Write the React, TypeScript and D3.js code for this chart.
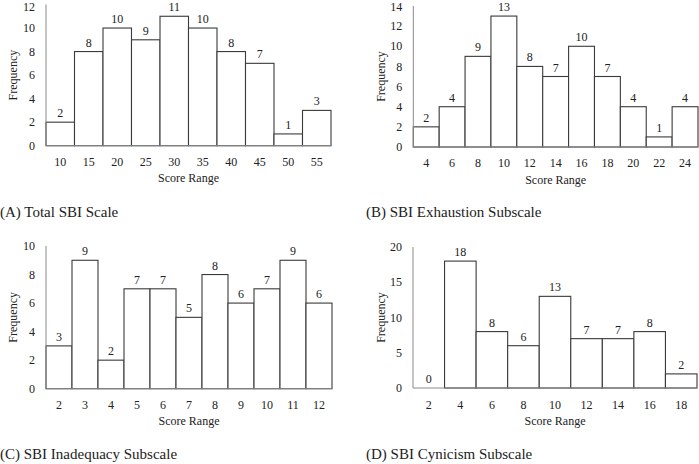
import React from "react";
import * as d3 from "d3";

const catsA = ["10", "15", "20", "25", "30", "35", "40", "45", "50", "55"];
const valsA = [2, 8, 10, 9, 11, 10, 8, 7, 1, 3];
const ticksA = [0, 2, 4, 6, 8, 10, 12];

const catsB = ["4", "6", "8", "10", "12", "14", "16", "18", "20", "22", "24"];
const valsB = [2, 4, 9, 13, 8, 7, 10, 7, 4, 1, 4];
const ticksB = [0, 2, 4, 6, 8, 10, 12, 14];

const catsC = ["2", "3", "4", "5", "6", "7", "8", "9", "10", "11", "12"];
const valsC = [3, 9, 2, 7, 7, 5, 8, 6, 7, 9, 6];
const ticksC = [0, 2, 4, 6, 8, 10];

const catsD = ["2", "4", "6", "8", "10", "12", "14", "16", "18"];
const valsD = [0, 18, 8, 6, 13, 7, 7, 8, 2];
const ticksD = [0, 5, 10, 15, 20];

const FONT = "Liberation Serif, DejaVu Serif, serif";
const txt: React.CSSProperties = { fontFamily: FONT };

type PanelProps = {
  x0: number; x1: number; yTop: number; yBase: number;
  cats: string[]; vals: number[]; ticks: number[];
  tickY: number; titleY: number; freqX: number;
  caption: string; capX: number; capY: number;
};

function Panel(p: PanelProps) {
  const x = d3.scaleBand<string>().domain(p.cats).range([p.x0, p.x1]).padding(0);
  const maxT = p.ticks[p.ticks.length - 1];
  const y = d3.scaleLinear().domain([0, maxT]).range([p.yBase, p.yTop]);
  const bw = x.bandwidth();
  return (
    <g>
      {p.cats.map((c, i) => (
        <rect key={c} x={x(c)} y={y(p.vals[i])} width={bw} height={p.yBase - y(p.vals[i])}
          fill="#fff" stroke="#3a3a3a" strokeWidth={1.1} />
      ))}
      <line x1={p.x0} x2={p.x0} y1={p.yTop} y2={p.yBase} stroke="#8a8a8a" strokeWidth={1} />
      <line x1={p.x0} x2={p.x1} y1={p.yBase} y2={p.yBase} stroke="#8a8a8a" strokeWidth={1} />
      {p.ticks.map((t) => (
        <text key={t} style={txt} x={p.x0 - 11} y={Math.max(y(t), 6.5)} dy="0.35em" textAnchor="end" fontSize={12}>{t}</text>
      ))}
      {p.cats.map((c, i) => (
        <g key={c}>
          <text style={txt} x={(x(c) as number) + bw / 2} y={p.tickY} dy="0.35em" textAnchor="middle" fontSize={12}>{c}</text>
          <text style={txt} x={(x(c) as number) + bw / 2} y={y(p.vals[i]) - 5} textAnchor="middle" fontSize={12}>{p.vals[i]}</text>
        </g>
      ))}
      <text style={txt} x={(p.x0 + p.x1) / 2} y={p.titleY} dy="0.35em" textAnchor="middle" fontSize={12}>Score Range</text>
      <text style={txt} transform={`translate(${p.freqX},${(p.yTop + p.yBase) / 2}) rotate(-90)`} dy="0.35em"
        textAnchor="middle" fontSize={12}>Frequency</text>
      <text style={txt} x={p.capX} y={p.capY} dy="0.35em" fontSize={15}>{p.caption}</text>
    </g>
  );
}

export default function App() {
  return (
    <svg width={699} height={464} style={{ position: "absolute", left: 0, top: 0, background: "#fff" }} fill="#222">
      <rect x={0} y={0} width={699} height={464} fill="#fff" />
      <Panel x0={46} x1={331} yTop={4.5} yBase={145.7} cats={catsA} vals={valsA} ticks={ticksA}
        tickY={162} titleY={178} freqX={13} caption="(A) Total SBI Scale" capX={0} capY={212} />
      <Panel x0={413.3} x1={698} yTop={6} yBase={147} cats={catsB} vals={valsB} ticks={ticksB}
        tickY={163} titleY={180} freqX={381} caption="(B) SBI Exhaustion Subscale" capX={366} capY={212} />
      <Panel x0={46} x1={332} yTop={246} yBase={388.7} cats={catsC} vals={valsC} ticks={ticksC}
        tickY={405} titleY={421} freqX={13} caption="(C) SBI Inadequacy Subscale" capX={0} capY={454} />
      <Panel x0={413} x1={697} yTop={247} yBase={388} cats={catsD} vals={valsD} ticks={ticksD}
        tickY={404.7} titleY={421} freqX={381} caption="(D) SBI Cynicism Subscale" capX={366} capY={453.7} />
    </svg>
  );
}
